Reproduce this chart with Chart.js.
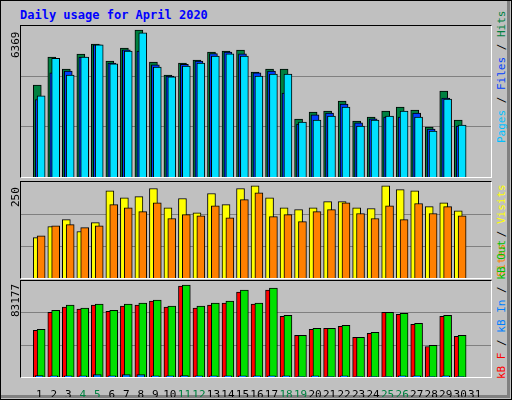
<!DOCTYPE html>
<html><head><meta charset="utf-8">
<script src="https://cdn.jsdelivr.net/npm/chart.js@4"></script>
<style>
html,body{margin:0;padding:0;background:#C0C0C0;}
#wrap{position:relative;width:510px;height:398px;border:1px solid #000;background:#C0C0C0;font-family:"DejaVu Sans Mono",monospace;overflow:hidden}
#inner{position:absolute;left:0;top:0;width:506px;height:394px;border-right:3px solid #808080;border-bottom:3px solid #808080}
.panel{position:absolute;left:19px;width:470px;border:1px solid #000;border-right-color:#fff;border-bottom-color:#fff}
canvas{position:absolute}
.t{position:absolute;white-space:nowrap;font-size:11px;transform-origin:left top;transform:rotate(-90deg)}
</style></head><body>
<div id="wrap"><div id="inner"></div>
<div style="position:absolute;left:19px;top:7px;color:#0000FF;font-weight:bold;font-size:12px">Daily usage for April 2020</div>
<div class="panel" style="top:24px;height:151px"></div>
<div class="panel" style="top:180px;height:96px"></div>
<div class="panel" style="top:279px;height:96px"></div>
<canvas id="c1" style="left:20px;top:25px;width:470px;height:151px" width="470" height="151"></canvas>
<canvas id="c2" style="left:20px;top:181px;width:470px;height:96px" width="470" height="96"></canvas>
<canvas id="c3" style="left:20px;top:280px;width:470px;height:116px" width="470" height="116"></canvas>
<div class="t" style="left:8px;top:57px">6369</div>
<div class="t" style="left:8px;top:206px">250</div>
<div class="t" style="left:8px;top:316px">83177</div>
<div class="t" style="left:494px;top:142px"><span style="color:#00C0FF">Pages</span> / <span style="color:#0040FF">Files</span> / <span style="color:#008040">Hits</span></div>
<div class="t" style="left:494px;top:276px"><span style="color:#FF8000">Sites</span> / <span style="color:#FFFF00">Visits</span></div>
<div class="t" style="left:494px;top:378px"><span style="color:#FF0000">kB F</span> / <span style="color:#0080FF">kB In</span> / <span style="color:#00C000">kB Out</span></div>
</div>
<script>
const days=[1,2,3,4,5,6,7,8,9,10,11,12,13,14,15,16,17,18,19,20,21,22,23,24,25,26,27,28,29,30,31];
const weekend=[4,5,11,12,18,19,25,26];
const hits=[3881,5062,4555,5188,5610,4893,5441,6200,4851,4302,4809,4935,5273,5315,5357,4429,4555,4555,2446,2742,2784,3206,2362,2531,2784,2953,2826,2109,3627,2404,0];
const files=[3270,4390,4470,5060,5570,4810,5360,5310,4730,4260,4750,4890,5210,5270,5190,4390,4470,3540,2230,2620,2700,3080,2280,2450,2530,2530,2700,2020,3330,2150,0];
const pages=[3420,5010,4300,5060,5570,4770,5310,6080,4640,4220,4680,4810,5100,5190,5100,4260,4340,4340,2320,2400,2570,2950,2150,2400,2570,2780,2530,1940,3290,2190,0];
const visits=[105,134,152,121,144,227,209,212,233,183,207,170,220,191,233,240,209,183,178,183,199,199,183,181,240,230,227,186,196,175,0];
const sites=[110,136,139,131,136,191,183,173,196,155,165,162,188,157,204,222,160,165,147,173,178,196,168,155,188,152,194,168,186,162,0];
const kbF=[40420,56120,60490,58740,62230,57000,61360,62230,65720,60490,78810,59620,62230,63980,73570,63100,75320,52630,36060,41290,42170,43910,34310,37800,56120,54380,45660,26460,52630,35190,0];
const kbIn=[1200,1000,1100,1000,2200,1100,2200,2200,1100,1000,1200,1000,1000,1000,1000,1000,1000,1000,400,1000,400,1000,400,400,400,1000,1000,400,1000,400,0];
const kbOut=[41300,57870,62230,59620,63100,57870,63100,63980,66600,61360,79680,61360,63980,65720,75320,63980,77060,53510,36060,42170,42170,44780,34310,38680,56120,55250,46530,27340,53510,36060,0];
const maxes=[6369,250,83177];

function ds(arr,off,color,order){
  return {data:days.map((d,i)=>({x:d+off,y:arr[i]})),backgroundColor:color,borderColor:'#000',borderWidth:1,
    barThickness:8,grouped:false,order:order,borderSkipped:'bottom'};
}
function make(id,datasets,max,showX){
  new Chart(document.getElementById(id),{type:'bar',data:{datasets},
    options:{responsive:false,animation:false,devicePixelRatio:1,layout:{padding:0},
      plugins:{legend:{display:false},tooltip:{enabled:false}},
      scales:{
        x:{type:'linear',min:0.267,max:31.6,display:showX,grid:{display:false},border:{display:false},
          afterBuildTicks:s=>{s.ticks=days.map(v=>({value:v}));},
          afterFit:s=>{s.height=showX?20:0;},
          ticks:{autoSkip:false,maxRotation:0,padding:4,font:{family:'DejaVu Sans Mono',size:11},
            color:c=>weekend.includes(c.tick.value)?'#008040':'#000',callback:v=>String(v)}},
        y:{min:0,max:max,display:true,border:{display:false},
          afterBuildTicks:s=>{s.ticks=[{value:max/3},{value:2*max/3}];},
          afterFit:s=>{s.width=0;},
          grid:{color:'#808080',drawTicks:false,lineWidth:1},ticks:{display:false}}
      }}});
}
make('c1',[ds(hits,-0.133,'#008040',3),ds(files,0,'#0040FF',2),ds(pages,0.133,'#00E0FF',1)],maxes[0],false);
make('c2',[ds(visits,-0.133,'#FFFF00',2),ds(sites,0.133,'#FF8000',1)],maxes[1],false);
make('c3',[ds(kbF,-0.133,'#FF0000',3),ds(kbIn,0,'#0080FF',1),ds(kbOut,0.133,'#00E000',2)],maxes[2],true);
</script></body></html>
